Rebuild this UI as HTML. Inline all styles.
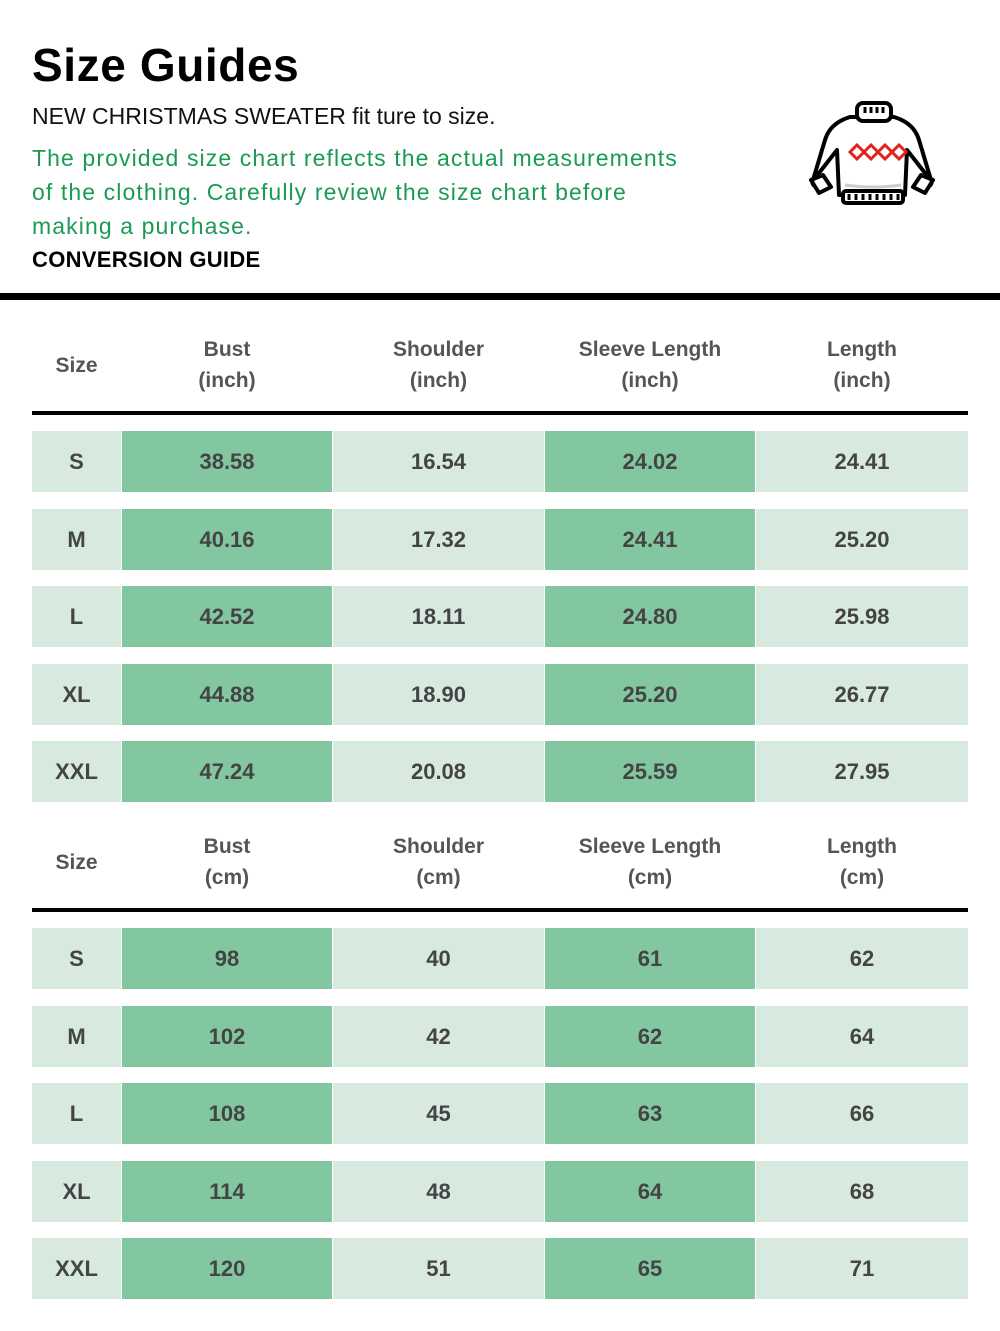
<!DOCTYPE html><html><head><style>
body{margin:0;width:1000px;height:1331px;background:#fff;position:relative;font-family:"Liberation Sans","DejaVu Sans",sans-serif;overflow:hidden}
.a{position:absolute}
.c{position:absolute;display:flex;align-items:center;justify-content:center;color:#444;font-weight:bold;font-size:22px;text-align:center;line-height:31px}
</style></head><body>
<div class="a" style="left:32px;top:38px;font-size:46px;font-weight:bold;color:#000;letter-spacing:0.6px">Size Guides</div>
<div class="a" style="left:32px;top:103px;font-size:23px;color:#111">NEW CHRISTMAS SWEATER fit ture to size.</div>
<div class="a" style="left:32px;top:141px;font-size:23px;color:#1a9a55;line-height:34px;width:760px;letter-spacing:1.1px">The provided size chart reflects the actual measurements<br>of the clothing. Carefully review the size chart before<br>making a purchase.</div>
<div class="a" style="left:32px;top:247px;font-size:22px;font-weight:bold;color:#000;letter-spacing:0.3px">CONVERSION GUIDE</div>
<svg class="a" style="left:805px;top:95px" width="140" height="120" viewBox="0 0 140 120">
<g stroke="#000" stroke-width="4" fill="#fff" stroke-linejoin="round">
<path d="M45 22 Q25 28 20 45 L8 85 Q6 90 12 92 L14 78 L32 55 L34 100 L100 100 L102 55 L120 78 L122 92 Q128 90 126 85 L114 45 Q109 28 89 22 Z"/>
<rect x="52" y="8" width="34" height="18" rx="6"/>
<rect x="38" y="96" width="60" height="12" rx="3"/>
<path d="M6 85 L14 98 L26 92 L18 80 Z"/><path d="M128 85 L120 98 L108 92 L116 80 Z"/>
</g>
<g stroke="#000" stroke-width="3"><path d="M60 12v6M66 12v6M72 12v6M78 12v6M44 99v6M51 99v6M58 99v6M65 99v6M72 99v6M79 99v6M86 99v6M93 99v6"/></g>
<g stroke="#ccc" stroke-width="3" fill="none"><path d="M40 90 Q67 94 96 90"/></g>
<g stroke="#e3231b" stroke-width="3" fill="none"><path d="M45 57 l7-7 7 7-7 7z M59 57 l7-7 7 7-7 7z M73 57 l7-7 7 7-7 7z M87 57 l7-7 7 7-7 7z"/></g>
</svg>
<div class="a" style="left:0;top:293px;width:1000px;height:7px;background:#000"></div>
<div id="t"></div>
<script>
var cols=[[32,89],[122,210],[333,211],[545,210],[756,212]];
var bg=['#d8eae0','#82c7a0','#d8eae0','#82c7a0','#d8eae0'];
var sizes=['S','M','L','XL','XXL'];
var d1=[['38.58','16.54','24.02','24.41'],['40.16','17.32','24.41','25.20'],['42.52','18.11','24.80','25.98'],['44.88','18.90','25.20','26.77'],['47.24','20.08','25.59','27.95']];
var d2=[['98','40','61','62'],['102','42','62','64'],['108','45','63','66'],['114','48','64','68'],['120','51','65','71']];
var h='';
function tbl(top,unit,d){
 var hd=['Size','Bust<br>('+unit+')','Shoulder<br>('+unit+')','Sleeve Length<br>('+unit+')','Length<br>('+unit+')'];
 for(var i=0;i<5;i++)h+='<div class="c" style="left:'+cols[i][0]+'px;top:'+top+'px;width:'+cols[i][1]+'px;height:80px;font-size:21px;color:#555">'+hd[i]+'</div>';
 h+='<div class="a" style="left:32px;top:'+(top+86)+'px;width:936px;height:4px;background:#000"></div>';
 for(var r=0;r<5;r++){var y=top+106+Math.round(r*77.5);
  for(var i=0;i<5;i++){var t=i==0?sizes[r]:d[r][i-1];
   h+='<div class="c" style="left:'+cols[i][0]+'px;top:'+y+'px;width:'+cols[i][1]+'px;height:61px;background:'+bg[i]+'">'+t+'</div>';}}
}
tbl(325,'inch',d1);tbl(822,'cm',d2);
document.getElementById('t').innerHTML=h;
</script>
</body></html>
